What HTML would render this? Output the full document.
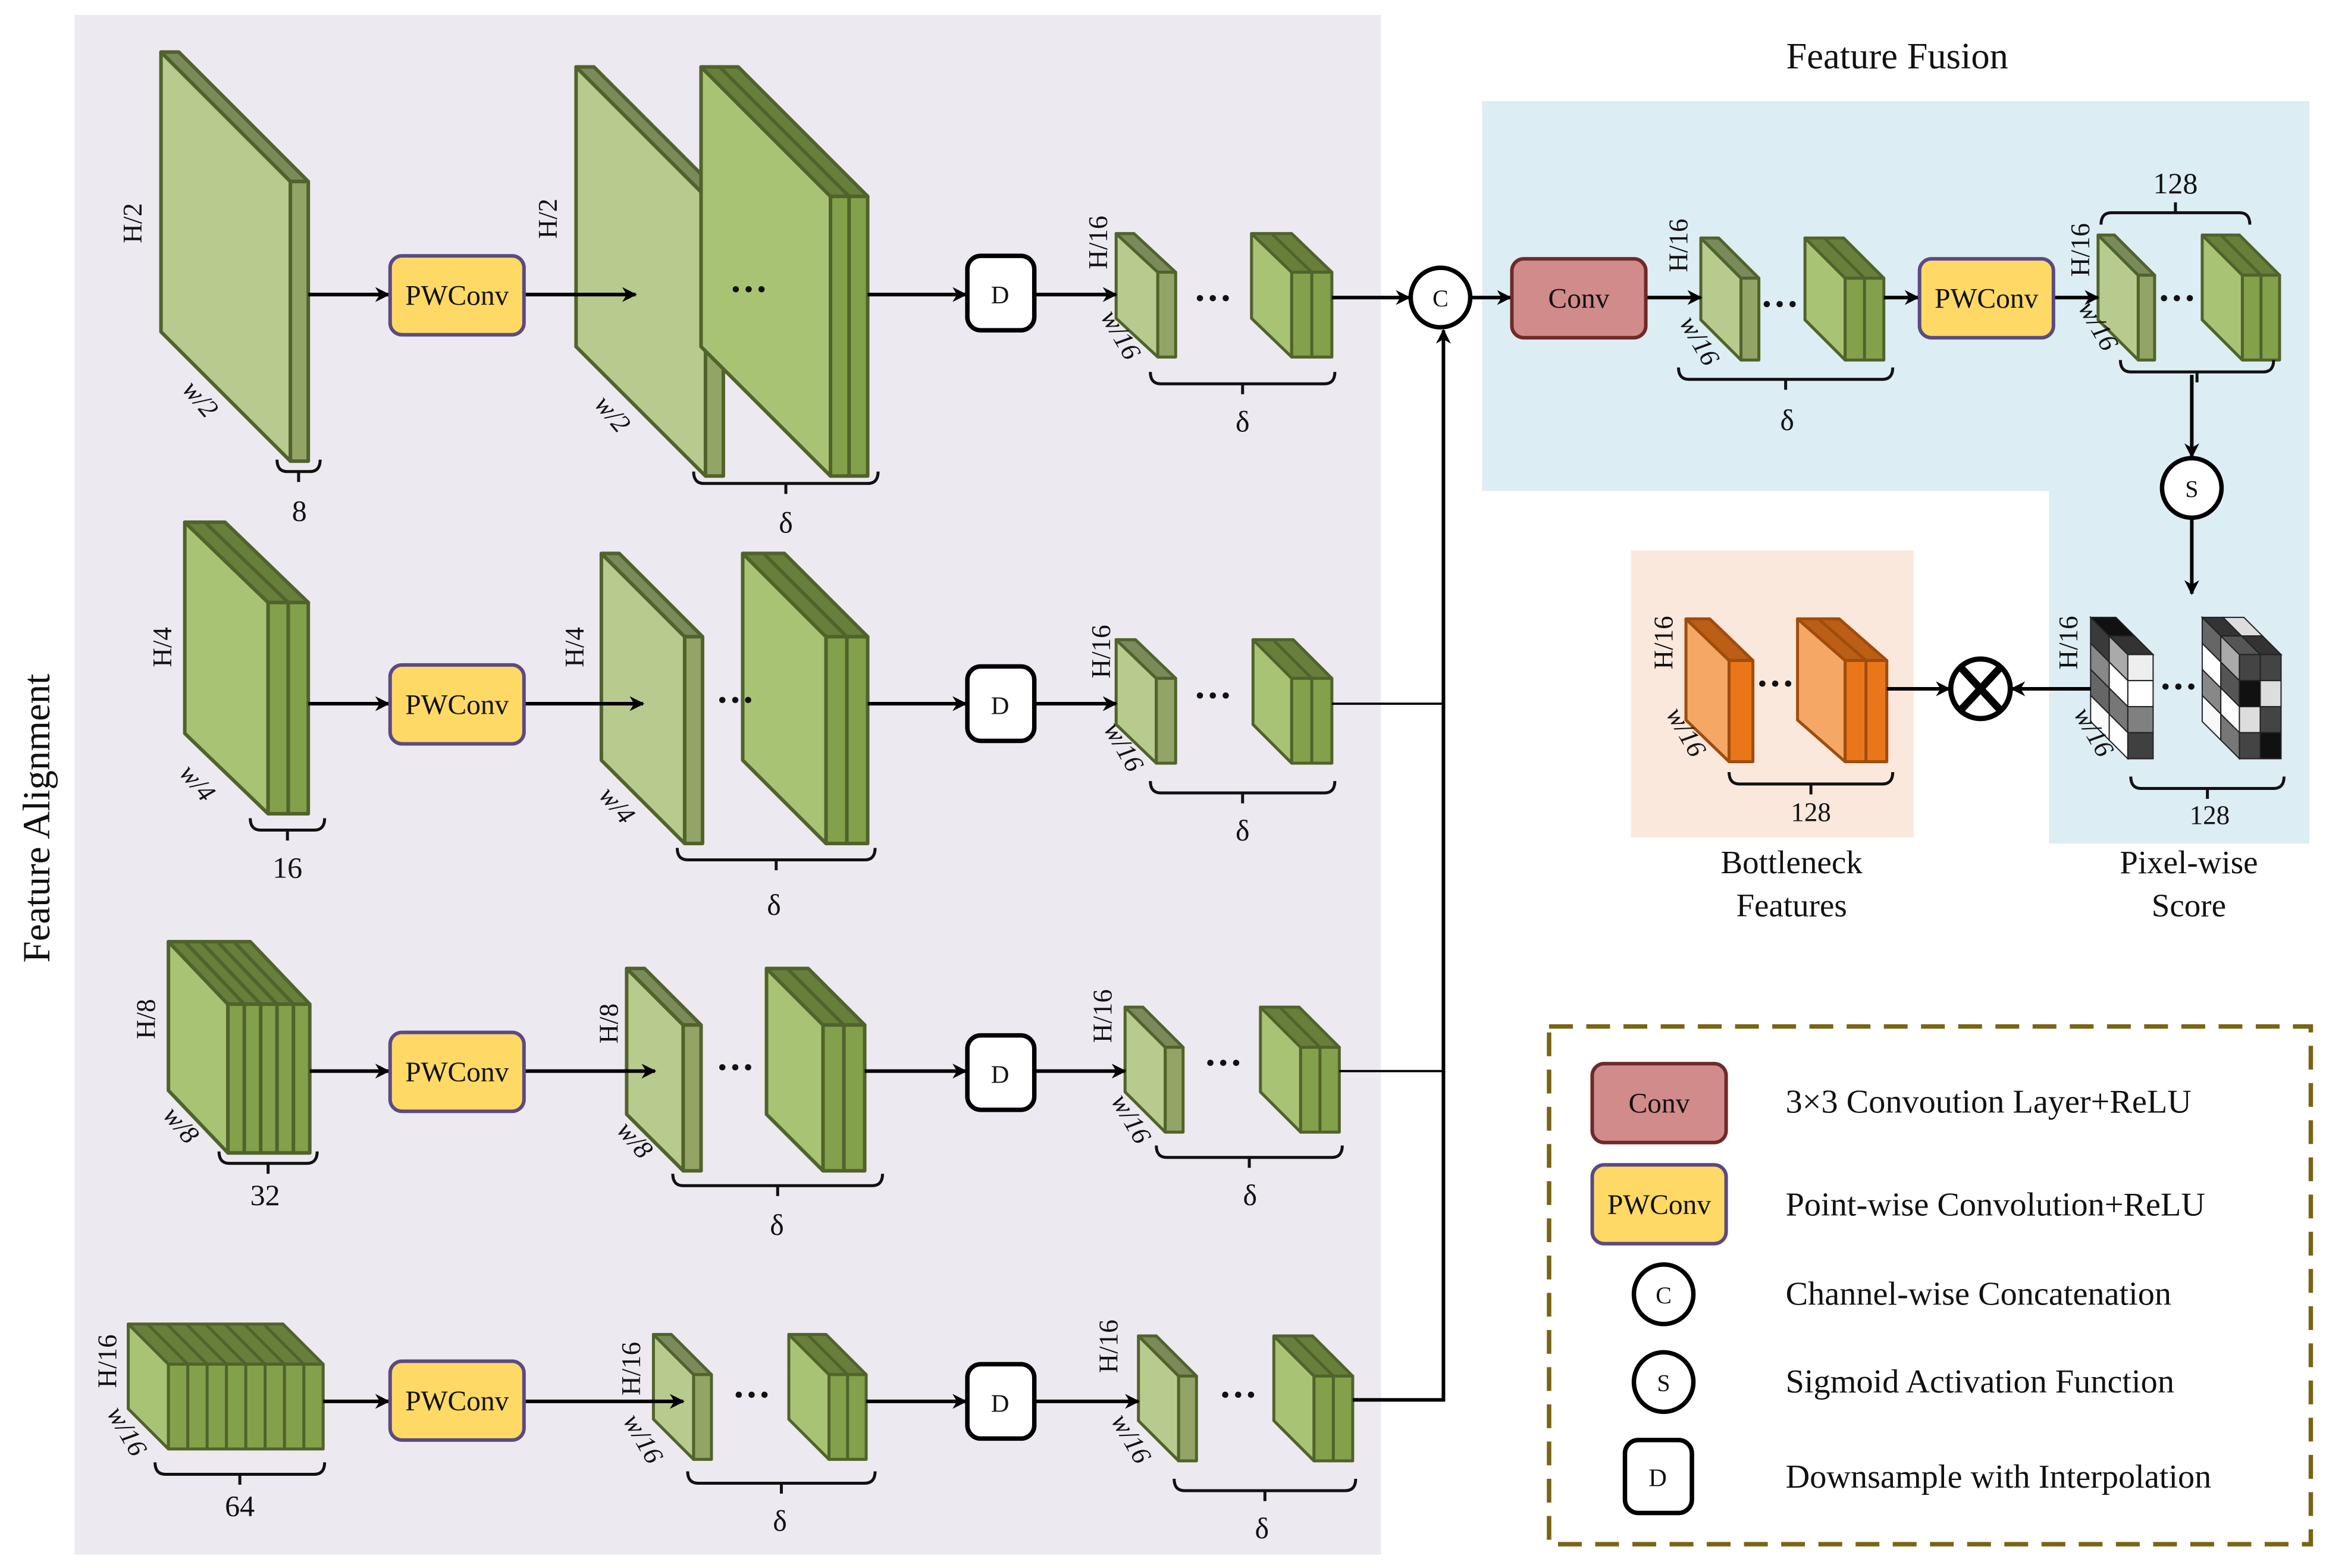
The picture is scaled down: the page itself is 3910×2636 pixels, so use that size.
<!DOCTYPE html>
<html><head><meta charset="utf-8"><style>
html,body{margin:0;padding:0;background:#fff}
svg{display:block}
text{font-family:"Liberation Serif",serif;fill:#111}
.g1 .s{fill:#b8cb8f}.g1 .t{fill:#7a8a5a}.g1 .f{fill:#93a566}
.g2 .s{fill:#a9c374}.g2 .t{fill:#687f3c}.g2 .f{fill:#83a04b}
.g1,.g2{stroke:#50632b;stroke-width:2.4;stroke-linejoin:round}
.sm{stroke-width:2}
.or{stroke:#a04c0c;stroke-width:2;stroke-linejoin:round}
.or .s{fill:#f5a865}.or .t{fill:#bb5e16}.or .f{fill:#e9771a}
.px{stroke:#222;stroke-width:0.8}
</style></head><body>
<svg width="3910" height="2636" viewBox="0 0 1563 1054" xmlns="http://www.w3.org/2000/svg">
<defs>
<marker id="ar" markerWidth="10" markerHeight="10" refX="9" refY="5" orient="auto" markerUnits="userSpaceOnUse">
<path d="M0,0 L10,5 L0,10 L3,5 Z" fill="#000"/></marker>
</defs>
<rect x="0" y="0" width="1563" height="1054" fill="#fff"/>
<rect x="50" y="10" width="878" height="1035" fill="#ece9f1"/>
<polygon points="996,68 1552,68 1552,567 1377,567 1377,330 996,330" fill="#dcedf3"/>
<rect x="1096" y="370" width="190" height="193" fill="#fbe8dc"/>

<!-- Row 1 -->
<g class="g1"><polygon class="s" points="108,35 195,122 195,310 108,223"/><polygon class="t" points="108,35 120,35 207,122 195,122"/><rect class="f" x="195" y="122" width="12" height="188"/></g>
<g class="g1"><polygon class="s" points="387,45 474,132 474,320 387,233"/><polygon class="t" points="387,45 399,45 486,132 474,132"/><rect class="f" x="474" y="132" width="12" height="188"/></g>
<g class="g2"><polygon class="s" points="471,45 558,132 558,320 471,233"/><polygon class="t" points="471,45 496,45 583,132 558,132"/><rect class="f" x="558" y="132" width="25" height="188"/><line x1="570.5" y1="132" x2="570.5" y2="320"/><line x1="483.5" y1="45" x2="570.5" y2="132"/></g>
<g class="g1 sm"><polygon class="s" points="750,157 778,183 778,240 750,214"/><polygon class="t" points="750,157 762,157 790,183 778,183"/><rect class="f" x="778" y="183" width="12" height="57"/></g>
<g class="g2 sm"><polygon class="s" points="841,157 868,183 868,240 841,214"/><polygon class="t" points="841,157 868,157 895,183 868,183"/><rect class="f" x="868" y="183" width="27" height="57"/><line x1="881.5" y1="183" x2="881.5" y2="240"/><line x1="854.5" y1="157" x2="881.5" y2="183"/></g>

<!-- Row 2 -->
<g class="g2"><polygon class="s" points="124,351 180,405 180,547 124,493"/><polygon class="t" points="124,351 151,351 207,405 180,405"/><rect class="f" x="180" y="405" width="27" height="142"/><line x1="193.5" y1="405" x2="193.5" y2="547"/><line x1="137.5" y1="351" x2="193.5" y2="405"/></g>
<g class="g1"><polygon class="s" points="404,372 460,428 460,567 404,511"/><polygon class="t" points="404,372 416,372 472,428 460,428"/><rect class="f" x="460" y="428" width="12" height="139"/></g>
<g class="g2"><polygon class="s" points="499,372 555,428 555,567 499,511"/><polygon class="t" points="499,372 527,372 583,428 555,428"/><rect class="f" x="555" y="428" width="28" height="139"/><line x1="569" y1="428" x2="569" y2="567"/><line x1="513" y1="372" x2="569" y2="428"/></g>
<g class="g1 sm"><polygon class="s" points="750,430 777,456 777,513 750,487"/><polygon class="t" points="750,430 763,430 790,456 777,456"/><rect class="f" x="777" y="456" width="13" height="57"/></g>
<g class="g2 sm"><polygon class="s" points="842,430 868,456 868,513 842,487"/><polygon class="t" points="842,430 869,430 895,456 868,456"/><rect class="f" x="868" y="456" width="27" height="57"/><line x1="881.5" y1="456" x2="881.5" y2="513"/><line x1="855.5" y1="430" x2="881.5" y2="456"/></g>

<!-- Row 3 -->
<g class="g2"><polygon class="s" points="113,633 153,675 153,775 113,733"/><polygon class="t" points="113,633 168,633 208,675 153,675"/><rect class="f" x="153" y="675" width="55" height="100"/>
<line x1="164" y1="675" x2="164" y2="775"/><line x1="175" y1="675" x2="175" y2="775"/><line x1="186" y1="675" x2="186" y2="775"/><line x1="197" y1="675" x2="197" y2="775"/>
<line x1="124" y1="633" x2="164" y2="675"/><line x1="135" y1="633" x2="175" y2="675"/><line x1="146" y1="633" x2="186" y2="675"/><line x1="157" y1="633" x2="197" y2="675"/></g>
<g class="g1"><polygon class="s" points="421,651 459,689 459,787 421,749"/><polygon class="t" points="421,651 433,651 471,689 459,689"/><rect class="f" x="459" y="689" width="12" height="98"/></g>
<g class="g2"><polygon class="s" points="515,651 553,689 553,787 515,749"/><polygon class="t" points="515,651 543,651 581,689 553,689"/><rect class="f" x="553" y="689" width="28" height="98"/><line x1="567" y1="689" x2="567" y2="787"/><line x1="529" y1="651" x2="567" y2="689"/></g>
<g class="g1 sm"><polygon class="s" points="756,677 783,704 783,761 756,734"/><polygon class="t" points="756,677 768,677 795,704 783,704"/><rect class="f" x="783" y="704" width="12" height="57"/></g>
<g class="g2 sm"><polygon class="s" points="847,677 874,704 874,761 847,734"/><polygon class="t" points="847,677 873,677 900,704 874,704"/><rect class="f" x="874" y="704" width="26" height="57"/><line x1="887" y1="704" x2="887" y2="761"/><line x1="860" y1="677" x2="887" y2="704"/></g>

<!-- Row 4 -->
<g class="g2 sm"><polygon class="s" points="86,890 113,917 113,974 86,947"/><polygon class="t" points="86,890 190,890 217,917 113,917"/><rect class="f" x="113" y="917" width="104" height="57"/>
<line x1="126" y1="917" x2="126" y2="974"/><line x1="139" y1="917" x2="139" y2="974"/><line x1="152" y1="917" x2="152" y2="974"/><line x1="165" y1="917" x2="165" y2="974"/><line x1="178" y1="917" x2="178" y2="974"/><line x1="191" y1="917" x2="191" y2="974"/><line x1="204" y1="917" x2="204" y2="974"/>
<line x1="99" y1="890" x2="126" y2="917"/><line x1="112" y1="890" x2="139" y2="917"/><line x1="125" y1="890" x2="152" y2="917"/><line x1="138" y1="890" x2="165" y2="917"/><line x1="151" y1="890" x2="178" y2="917"/><line x1="164" y1="890" x2="191" y2="917"/><line x1="177" y1="890" x2="204" y2="917"/></g>
<g class="g1 sm"><polygon class="s" points="439,897 466,924 466,981 439,954"/><polygon class="t" points="439,897 451,897 478,924 466,924"/><rect class="f" x="466" y="924" width="12" height="57"/></g>
<g class="g2 sm"><polygon class="s" points="530,897 557,924 557,981 530,954"/><polygon class="t" points="530,897 555,897 582,924 557,924"/><rect class="f" x="557" y="924" width="25" height="57"/><line x1="569.5" y1="924" x2="569.5" y2="981"/><line x1="542.5" y1="897" x2="569.5" y2="924"/></g>
<g class="g1 sm"><polygon class="s" points="765,898 792,925 792,982 765,955"/><polygon class="t" points="765,898 777,898 804,925 792,925"/><rect class="f" x="792" y="925" width="12" height="57"/></g>
<g class="g2 sm"><polygon class="s" points="856,898 883,925 883,982 856,955"/><polygon class="t" points="856,898 882,898 909,925 883,925"/><rect class="f" x="883" y="925" width="26" height="57"/><line x1="896" y1="925" x2="896" y2="982"/><line x1="869" y1="898" x2="896" y2="925"/></g>

<!-- Fusion boxes -->
<g class="g1 sm"><polygon class="s" points="1143,160 1170,187 1170,242 1143,215"/><polygon class="t" points="1143,160 1155,160 1182,187 1170,187"/><rect class="f" x="1170" y="187" width="12" height="55"/></g>
<g class="g2 sm"><polygon class="s" points="1213,160 1240,187 1240,242 1213,215"/><polygon class="t" points="1213,160 1239,160 1266,187 1240,187"/><rect class="f" x="1240" y="187" width="26" height="55"/><line x1="1253" y1="187" x2="1253" y2="242"/><line x1="1226" y1="160" x2="1253" y2="187"/></g>
<g class="g1 sm"><polygon class="s" points="1410,158 1437,185 1437,242 1410,215"/><polygon class="t" points="1410,158 1421,158 1448,185 1437,185"/><rect class="f" x="1437" y="185" width="11" height="57"/></g>
<g class="g2 sm"><polygon class="s" points="1480,158 1507,185 1507,242 1480,215"/><polygon class="t" points="1480,158 1505,158 1532,185 1507,185"/><rect class="f" x="1507" y="185" width="25" height="57"/><line x1="1519.5" y1="185" x2="1519.5" y2="242"/><line x1="1492.5" y1="158" x2="1519.5" y2="185"/></g>

<!-- Orange -->
<g class="or"><polygon class="s" points="1133,416 1162,444 1162,512 1133,484"/><polygon class="t" points="1133,416 1149,416 1178,444 1162,444"/><rect class="f" x="1162" y="444" width="16" height="68"/></g>
<g class="or"><polygon class="s" points="1208,416 1240,444 1240,512 1208,484"/><polygon class="t" points="1208,416 1236,416 1268,444 1240,444"/><rect class="f" x="1240" y="444" width="28" height="68"/><line x1="1254" y1="444" x2="1254" y2="512"/><line x1="1222" y1="416" x2="1254" y2="444"/></g>

<!-- Pixel score cube 1 -->
<g class="px">
<polygon points="1405,415 1417.5,427.5 1417.5,445 1405,432.5" fill="#3a3a3a"/>
<polygon points="1405,432.5 1417.5,445 1417.5,462.5 1405,450" fill="#888"/>
<polygon points="1405,450 1417.5,462.5 1417.5,480 1405,467.5" fill="#666"/>
<polygon points="1405,467.5 1417.5,480 1417.5,497.5 1405,485" fill="#fafafa"/>
<polygon points="1417.5,427.5 1430,440 1430,457.5 1417.5,445" fill="#aaa"/>
<polygon points="1417.5,445 1430,457.5 1430,475 1417.5,462.5" fill="#fff"/>
<polygon points="1417.5,462.5 1430,475 1430,492.5 1417.5,480" fill="#777"/>
<polygon points="1417.5,480 1430,492.5 1430,510 1417.5,497.5" fill="#fff"/>
<polygon points="1405,415 1422,415 1434.5,427.5 1417.5,427.5" fill="#111"/>
<polygon points="1417.5,427.5 1434.5,427.5 1447,440 1430,440" fill="#333"/>
<rect x="1430" y="440" width="17" height="17.5" fill="#eee"/>
<rect x="1430" y="457.5" width="17" height="17.5" fill="#fff"/>
<rect x="1430" y="475" width="17" height="17.5" fill="#808080"/>
<rect x="1430" y="492.5" width="17" height="17.5" fill="#404040"/>
</g>
<!-- Pixel score cube 2 -->
<g class="px">
<polygon points="1480,415 1492.5,427.5 1492.5,445 1480,432.5" fill="#666"/>
<polygon points="1480,432.5 1492.5,445 1492.5,462.5 1480,450" fill="#fff"/>
<polygon points="1480,450 1492.5,462.5 1492.5,480 1480,467.5" fill="#888"/>
<polygon points="1480,467.5 1492.5,480 1492.5,497.5 1480,485" fill="#f8f8f8"/>
<polygon points="1492.5,427.5 1505,440 1505,457.5 1492.5,445" fill="#aaa"/>
<polygon points="1492.5,445 1505,457.5 1505,475 1492.5,462.5" fill="#555"/>
<polygon points="1492.5,462.5 1505,475 1505,492.5 1492.5,480" fill="#fff"/>
<polygon points="1492.5,480 1505,492.5 1505,510 1492.5,497.5" fill="#777"/>
<polygon points="1480,415 1494,415 1506.5,427.5 1492.5,427.5" fill="#333"/>
<polygon points="1494,415 1508,415 1520.5,427.5 1506.5,427.5" fill="#ddd"/>
<polygon points="1492.5,427.5 1506.5,427.5 1519,440 1505,440" fill="#555"/>
<polygon points="1506.5,427.5 1520.5,427.5 1533,440 1519,440" fill="#333"/>
<rect x="1505" y="440" width="14" height="17.5" fill="#444"/>
<rect x="1505" y="457.5" width="14" height="17.5" fill="#111"/>
<rect x="1505" y="475" width="14" height="17.5" fill="#ddd"/>
<rect x="1505" y="492.5" width="14" height="17.5" fill="#444"/>
<rect x="1519" y="440" width="14" height="17.5" fill="#444"/>
<rect x="1519" y="457.5" width="14" height="17.5" fill="#ddd"/>
<rect x="1519" y="475" width="14" height="17.5" fill="#444"/>
<rect x="1519" y="492.5" width="14" height="17.5" fill="#111"/>
</g>

<g stroke="#000" stroke-width="2.4" fill="none">
<line x1="207" y1="198" x2="261" y2="198" marker-end="url(#ar)"/>
<line x1="352" y1="198" x2="427" y2="198" marker-end="url(#ar)"/>
<line x1="583" y1="198" x2="649" y2="198" marker-end="url(#ar)"/>
<line x1="695" y1="198" x2="750" y2="198" marker-end="url(#ar)"/>
<line x1="895" y1="200" x2="947" y2="200" marker-end="url(#ar)"/>
<line x1="207" y1="473" x2="261" y2="473" marker-end="url(#ar)"/>
<line x1="352" y1="473" x2="432" y2="473" marker-end="url(#ar)"/>
<line x1="583" y1="473" x2="649" y2="473" marker-end="url(#ar)"/>
<line x1="695" y1="473" x2="750" y2="473" marker-end="url(#ar)"/>
<line x1="895" y1="473" x2="970" y2="473" stroke-width="1.5"/>
<line x1="208" y1="720" x2="261" y2="720" marker-end="url(#ar)"/>
<line x1="352" y1="720" x2="440" y2="720" marker-end="url(#ar)"/>
<line x1="581" y1="720" x2="649" y2="720" marker-end="url(#ar)"/>
<line x1="695" y1="720" x2="756" y2="720" marker-end="url(#ar)"/>
<line x1="900" y1="720" x2="970" y2="720" stroke-width="1.5"/>
<line x1="217" y1="942" x2="261" y2="942" marker-end="url(#ar)"/>
<line x1="352" y1="942" x2="459" y2="942" marker-end="url(#ar)"/>
<line x1="582" y1="942" x2="649" y2="942" marker-end="url(#ar)"/>
<line x1="695" y1="942" x2="765" y2="942" marker-end="url(#ar)"/>
<polyline points="909,941 970,941 970,222" marker-end="url(#ar)"/>
<line x1="988" y1="200" x2="1015" y2="200" marker-end="url(#ar)"/>
<line x1="1106" y1="200" x2="1143" y2="200" marker-end="url(#ar)"/>
<line x1="1266" y1="200" x2="1289" y2="200" marker-end="url(#ar)"/>
<line x1="1380" y1="200" x2="1410" y2="200" marker-end="url(#ar)"/>
<line x1="1473" y1="252" x2="1473" y2="307" marker-end="url(#ar)"/>
<line x1="1473" y1="348" x2="1473" y2="399" marker-end="url(#ar)"/>
<line x1="1268" y1="463" x2="1310" y2="463" marker-end="url(#ar)"/>
<line x1="1405" y1="463" x2="1352" y2="463" marker-end="url(#ar)"/>
</g>

<g stroke="#111" stroke-width="2" fill="none">
<path d="M186 309 Q186 317 193 317 L208 317 Q215 317 215 309 M200.5 317 l0 7"/>
<path d="M466 317 Q466 325 473 325 L583 325 Q590 325 590 317 M528 325 l0 7"/>
<path d="M773 250 Q773 258 780 258 L890 258 Q897 258 897 250 M835 258 l0 7"/>
<path d="M168 550 Q168 558 175 558 L211 558 Q218 558 218 550 M193 558 l0 7"/>
<path d="M455 570 Q455 578 462 578 L581 578 Q588 578 588 570 M521.5 578 l0 7"/>
<path d="M773 525 Q773 533 780 533 L890 533 Q897 533 897 525 M835 533 l0 7"/>
<path d="M147 774 Q147 782 154 782 L206 782 Q213 782 213 774 M180 782 l0 7"/>
<path d="M452 789 Q452 797 459 797 L586 797 Q593 797 593 789 M522.5 797 l0 7"/>
<path d="M777 770 Q777 778 784 778 L895 778 Q902 778 902 770 M839.5 778 l0 7"/>
<path d="M104 983 Q104 991 111 991 L211 991 Q218 991 218 983 M161 991 l0 7"/>
<path d="M462 989 Q462 997 469 997 L581 997 Q588 997 588 989 M525 997 l0 7"/>
<path d="M789 994 Q789 1002 796 1002 L904 1002 Q911 1002 911 994 M850 1002 l0 7"/>
<path d="M1128 247 Q1128 255 1135 255 L1265 255 Q1272 255 1272 247 M1200 255 l0 7"/>
<path d="M1412 151 Q1412 143 1419 143 L1505 143 Q1512 143 1512 151 M1462 143 l0 -7"/>
<path d="M1425 242 Q1425 250 1432 250 L1521 250 Q1528 250 1528 242 M1476.5 250 l0 7"/>
<path d="M1162 519 Q1162 527 1169 527 L1265 527 Q1272 527 1272 519 M1217 527 l0 7"/>
<path d="M1432 522 Q1432 530 1439 530 L1528 530 Q1535 530 1535 522 M1483.5 530 l0 7"/>
</g>

<g stroke-width="2.4">
<rect x="262" y="172" width="90" height="53" rx="8" fill="#fed966" stroke="#5b4a82"/>
<rect x="262" y="447" width="90" height="53" rx="8" fill="#fed966" stroke="#5b4a82"/>
<rect x="262" y="694" width="90" height="53" rx="8" fill="#fed966" stroke="#5b4a82"/>
<rect x="262" y="915" width="90" height="53" rx="8" fill="#fed966" stroke="#5b4a82"/>
<rect x="650" y="172" width="45" height="50" rx="9" fill="#fff" stroke="#000" stroke-width="3"/>
<rect x="650" y="448" width="45" height="50" rx="9" fill="#fff" stroke="#000" stroke-width="3"/>
<rect x="650" y="696" width="45" height="50" rx="9" fill="#fff" stroke="#000" stroke-width="3"/>
<rect x="650" y="917" width="45" height="50" rx="9" fill="#fff" stroke="#000" stroke-width="3"/>
<circle cx="968" cy="200" r="20" fill="#fff" stroke="#000" stroke-width="3"/>
<rect x="1016" y="174" width="90" height="53" rx="8" fill="#d08b8a" stroke="#6e2a2a"/>
<rect x="1290" y="174" width="90" height="53" rx="8" fill="#fed966" stroke="#5b4a82"/>
<circle cx="1473" cy="328" r="20" fill="#fff" stroke="#000" stroke-width="3"/>
<circle cx="1331" cy="463" r="20" fill="#fff" stroke="#000" stroke-width="3.5"/>
<line x1="1318" y1="449" x2="1344" y2="477" stroke="#000" stroke-width="5"/>
<line x1="1344" y1="449" x2="1318" y2="477" stroke="#000" stroke-width="5"/>
<rect x="1041" y="690" width="512" height="348" fill="none" stroke="#7a6414" stroke-width="3" stroke-dasharray="16,9"/>
<rect x="1070" y="715" width="90" height="53" rx="8" fill="#d08b8a" stroke="#6e2a2a"/>
<rect x="1070" y="783" width="90" height="53" rx="8" fill="#fed966" stroke="#5b4a82"/>
<circle cx="1118" cy="870" r="20" fill="#fff" stroke="#000" stroke-width="3"/>
<circle cx="1118" cy="929" r="20" fill="#fff" stroke="#000" stroke-width="3"/>
<rect x="1092" y="968" width="45" height="49" rx="9" fill="#fff" stroke="#000" stroke-width="3"/>
</g>

<g font-size="19" text-anchor="middle">
<text x="307" y="205">PWConv</text><text x="307" y="480">PWConv</text>
<text x="307" y="727">PWConv</text><text x="307" y="948">PWConv</text>
<text x="672" y="204" font-size="17">D</text><text x="672" y="480" font-size="17">D</text>
<text x="672" y="728" font-size="17">D</text><text x="672" y="949" font-size="17">D</text>
<text x="968" y="206" font-size="16">C</text>
<text x="1061" y="207">Conv</text>
<text x="1335" y="207">PWConv</text>
<text x="1473" y="334" font-size="16">S</text>
<text x="1115" y="748">Conv</text>
<text x="1115" y="816">PWConv</text>
<text x="1118" y="876" font-size="16">C</text>
<text x="1118" y="935" font-size="16">S</text>
<text x="1114" y="999" font-size="17">D</text>
</g>
<g font-size="22.5">
<text x="1200" y="748">3×3 Convoution Layer+ReLU</text>
<text x="1200" y="817">Point-wise Convolution+ReLU</text>
<text x="1200" y="877">Channel-wise Concatenation</text>
<text x="1200" y="936">Sigmoid Activation Function</text>
<text x="1200" y="1000">Downsample with Interpolation</text>
</g>
<g font-size="22" text-anchor="middle">
<text x="1275" y="46" font-size="25">Feature Fusion</text>
<text transform="translate(33,550) rotate(-90)" font-size="26">Feature Alignment</text>
<text x="1204" y="587">Bottleneck</text><text x="1204" y="616">Features</text>
<text x="1471" y="587">Pixel-wise</text><text x="1471" y="616">Score</text>
<text x="201" y="350" font-size="20">8</text>
<text x="193" y="590" font-size="20">16</text>
<text x="178" y="810" font-size="20">32</text>
<text x="161" y="1019" font-size="20">64</text>
<text x="528" y="358" font-size="20">δ</text>
<text x="520" y="615" font-size="20">δ</text>
<text x="522" y="830" font-size="20">δ</text>
<text x="524" y="1029" font-size="20">δ</text>
<text x="835" y="290" font-size="20">δ</text>
<text x="835" y="565" font-size="20">δ</text>
<text x="840" y="810" font-size="20">δ</text>
<text x="848" y="1034" font-size="20">δ</text>
<text x="1201" y="289" font-size="20">δ</text>
<text x="1462" y="130" font-size="20">128</text>
<text x="1217" y="552" font-size="18">128</text>
<text x="1485" y="554" font-size="18">128</text>
</g>
<g font-size="18" text-anchor="middle">
<text transform="translate(95,150) rotate(-90)">H/2</text>
<text transform="translate(374,147) rotate(-90)">H/2</text>
<text transform="translate(115,435) rotate(-90)">H/4</text>
<text transform="translate(392,435) rotate(-90)">H/4</text>
<text transform="translate(104,685) rotate(-90)">H/8</text>
<text transform="translate(415,688) rotate(-90)">H/8</text>
<text transform="translate(78,915) rotate(-90)">H/16</text>
<text transform="translate(430,920) rotate(-90)">H/16</text>
<text transform="translate(744,163) rotate(-90)">H/16</text>
<text transform="translate(746,438) rotate(-90)">H/16</text>
<text transform="translate(747,683) rotate(-90)">H/16</text>
<text transform="translate(751,905) rotate(-90)">H/16</text>
<text transform="translate(1134,165) rotate(-90)">H/16</text>
<text transform="translate(1404,168) rotate(-90)">H/16</text>
<text transform="translate(1124,432) rotate(-90)">H/16</text>
<text transform="translate(1396,432) rotate(-90)">H/16</text>
<g font-style="italic">
<text transform="translate(130,272) rotate(50)">w/2</text>
<text transform="translate(407,282) rotate(50)">w/2</text>
<text transform="translate(128,530) rotate(50)">w/4</text>
<text transform="translate(410,545) rotate(50)">w/4</text>
<text transform="translate(117,760) rotate(50)">w/8</text>
<text transform="translate(422,770) rotate(50)">w/8</text>
<text transform="translate(80,965) rotate(60)">w/16</text>
<text transform="translate(427,970) rotate(60)">w/16</text>
<text transform="translate(748,228) rotate(60)">w/16</text>
<text transform="translate(750,505) rotate(60)">w/16</text>
<text transform="translate(755,755) rotate(60)">w/16</text>
<text transform="translate(755,970) rotate(60)">w/16</text>
<text transform="translate(1137,232) rotate(60)">w/16</text>
<text transform="translate(1405,222) rotate(60)">w/16</text>
<text transform="translate(1128,495) rotate(60)">w/16</text>
<text transform="translate(1402,495) rotate(60)">w/16</text>
</g>
</g>
<g font-size="26" font-weight="bold" text-anchor="middle">
<text x="503" y="203">···</text><text x="494" y="479">···</text><text x="494" y="726">···</text><text x="505" y="946">···</text>
<text x="815" y="209">···</text><text x="815" y="476">···</text><text x="822" y="723">···</text><text x="832" y="946">···</text>
<text x="1196" y="213">···</text><text x="1463" y="209">···</text>
<text x="1193" y="468">···</text><text x="1464" y="470">···</text>
</g>
</svg>
</body></html>
